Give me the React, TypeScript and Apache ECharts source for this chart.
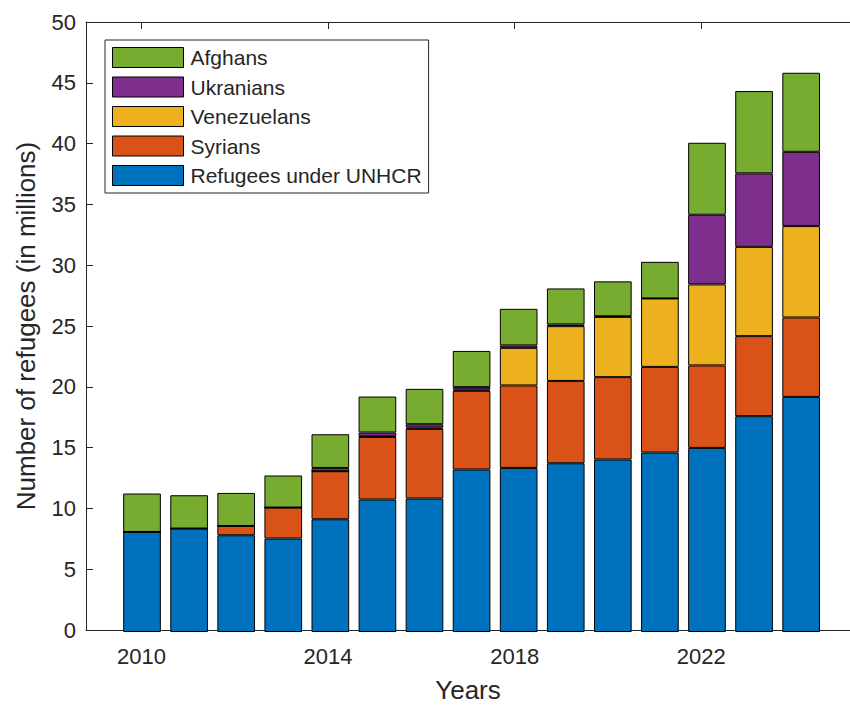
import { useEffect, useRef } from "react";
import * as echarts from "echarts";

const years = [2010, 2011, 2012, 2013, 2014, 2015, 2016, 2017, 2018, 2019, 2020, 2021, 2022, 2023, 2024];
const unhcr = [8.2, 8.48, 7.93, 7.66, 9.24, 10.86, 10.94, 13.32, 13.45, 13.83, 14.14, 14.71, 15.09, 17.69, 19.27];
const syrians = [0, 0, 0.76, 2.54, 3.94, 5.13, 5.71, 6.45, 6.76, 6.75, 6.75, 7.02, 6.76, 6.56, 6.51];
const venezuelans = [0, 0, 0, 0, 0, 0.05, 0.11, 0.1, 3.08, 4.49, 4.94, 5.61, 6.64, 7.32, 7.49];
const ukranians = [0, 0, 0, 0, 0.27, 0.31, 0.27, 0.2, 0.2, 0.14, 0.05, 0, 5.71, 6.02, 6.09];
const afghans = [3.15, 2.73, 2.71, 2.63, 2.76, 2.95, 2.9, 2.97, 3.0, 2.95, 2.86, 3.0, 5.9, 6.75, 6.48];
const yearTicks = [2010, 2014, 2018, 2022];

const FONT = '"Liberation Sans", Arial, Helvetica, sans-serif';
const AXIS = "#262626";

const layers = [
  { name: "Refugees under UNHCR", values: unhcr, color: "#0072BD" },
  { name: "Syrians", values: syrians, color: "#D95319" },
  { name: "Venezuelans", values: venezuelans, color: "#EDB120" },
  { name: "Ukranians", values: ukranians, color: "#7E2F8E" },
  { name: "Afghans", values: afghans, color: "#77AC30" }
];

// axis box spans x 2008.81..2025.19, one year = 47.08 px
const X_MIN = 2008.81;
const X_MAX = 2025.19;
const PX_PER_YEAR = 47.08;
const AXIS_LEFT = 86;

export default function App() {
  const chartRef = useRef<HTMLDivElement>(null);

  useEffect(() => {
    if (!chartRef.current) return;
    const chart = echarts.init(chartRef.current, null, { renderer: "svg" });

    const barLeft = AXIS_LEFT + (years[0] - 0.5 - X_MIN) * PX_PER_YEAR;
    const barWidth = years.length * PX_PER_YEAR;

    const xFrame = {
      type: "value",
      gridIndex: 1,
      min: X_MIN,
      max: X_MAX,
      splitLine: { show: false },
      axisLine: { show: true, lineStyle: { color: AXIS, width: 1 } },
      axisTick: { show: true, inside: true, length: 7, customValues: yearTicks, lineStyle: { color: AXIS } }
    };

    chart.setOption({
      animation: false,
      textStyle: { fontFamily: FONT },
      grid: [
        { left: barLeft, top: 22, width: barWidth, height: 610 },
        { left: AXIS_LEFT, top: 22, width: (X_MAX - X_MIN) * PX_PER_YEAR, height: 610 }
      ],
      legend: {
        orient: "vertical",
        left: 105,
        top: 40,
        padding: [7, 7, 7, 7],
        itemWidth: 71,
        itemHeight: 20,
        itemGap: 8.5,
        icon: "rect",
        borderColor: AXIS,
        borderWidth: 1,
        backgroundColor: "#fff",
        itemStyle: { borderColor: "#000", borderWidth: 1 },
        textStyle: { fontSize: 21, color: AXIS, fontFamily: FONT, lineHeight: 21, padding: [0, 0, 0, 2] },
        data: ["Afghans", "Ukranians", "Venezuelans", "Syrians", "Refugees under UNHCR"]
      },
      xAxis: [
        {
          type: "category",
          gridIndex: 0,
          data: years.map(String),
          boundaryGap: true,
          show: false
        },
        {
          ...xFrame,
          position: "bottom",
          name: "Years",
          nameLocation: "middle",
          nameGap: 47,
          nameTextStyle: { fontSize: 26, color: AXIS, fontFamily: FONT },
          axisLabel: {
            show: true,
            customValues: yearTicks,
            formatter: (v: number) => String(Math.round(v)),
            fontSize: 22,
            color: AXIS,
            margin: 15,
            fontFamily: FONT
          }
        },
        {
          ...xFrame,
          position: "top",
          axisLabel: { show: false }
        }
      ],
      yAxis: [
        {
          type: "value",
          gridIndex: 0,
          min: 0,
          max: 50,
          show: false,
          splitLine: { show: false }
        },
        {
          type: "value",
          gridIndex: 1,
          min: 0,
          max: 50,
          interval: 5,
          name: "Number of refugees (in millions)",
          nameLocation: "middle",
          nameGap: 47,
          nameTextStyle: { fontSize: 26, color: AXIS, fontFamily: FONT },
          splitLine: { show: false },
          axisLine: { show: true, lineStyle: { color: AXIS, width: 1 } },
          axisTick: { show: true, inside: true, length: 7, lineStyle: { color: AXIS } },
          axisLabel: { fontSize: 22, color: AXIS, margin: 10, fontFamily: FONT }
        }
      ],
      series: layers.map(l => ({
        name: l.name,
        type: "bar",
        stack: "total",
        xAxisIndex: 0,
        yAxisIndex: 0,
        barWidth: "80%",
        itemStyle: { color: l.color, borderColor: "#000", borderWidth: 1 },
        data: l.values
      }))
    });

    return () => chart.dispose();
  }, []);

  return (
    <div
      ref={chartRef}
      style={{ position: "fixed", left: 0, top: 0, width: 850, height: 708, background: "#fff" }}
    />
  );
}
